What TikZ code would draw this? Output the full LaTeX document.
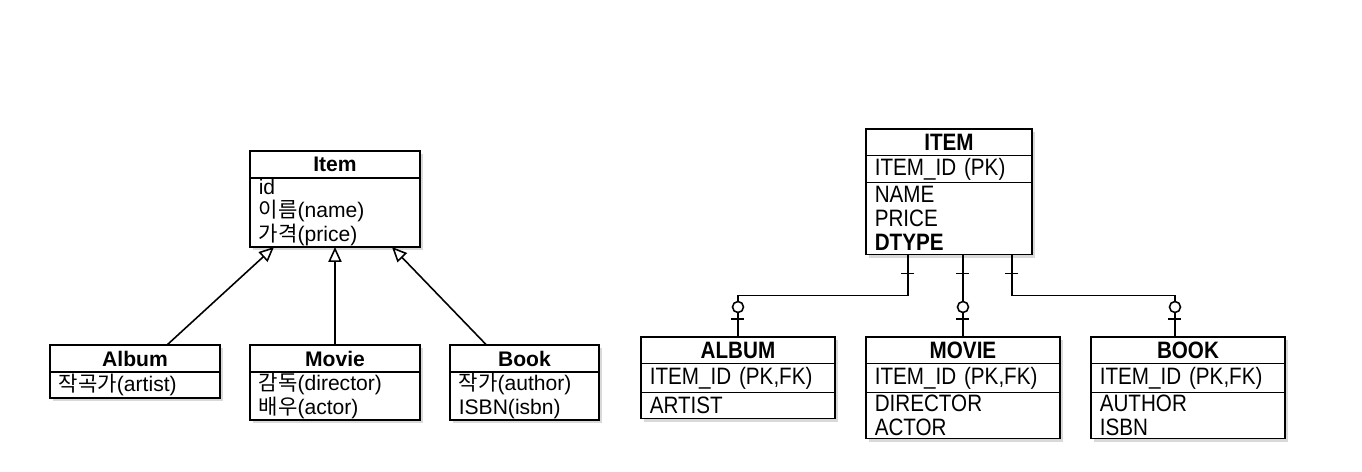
\documentclass[tikz,border=0pt]{standalone}
\usepackage{fontspec}
\setmainfont{Liberation Sans}
\newfontfamily\krfont{Noto Sans CJK KR}
\newfontfamily\erdfont[FakeStretch=0.87]{Liberation Sans}
\usetikzlibrary{positioning,calc,arrows.meta,shadows,decorations.markings}
\newcommand{\hangul}[1]{{\krfont #1}}

\begin{document}
\begin{tikzpicture}[
    x=0.02cm, y=-0.02cm,
    box/.style={rectangle, draw, line width=1.1pt, fill=white, outer sep=0pt, inner xsep=5pt, inner ysep=0pt, drop shadow={shadow xshift=1.6pt, shadow yshift=-1.8pt, opacity=0.3}},
    classhead/.style={box, minimum width=#1, minimum height=0.54cm, font=\fontsize{12}{13.6}\selectfont\bfseries},
    classbody/.style={box, text width=#1, align=left, font=\fontsize{12}{13.6}\selectfont},
    erhead/.style={box, minimum width=#1, minimum height=0.53cm, font=\erdfont\fontsize{13.5}{13.7}\selectfont\bfseries},
    erbody/.style={box, text width=#1, align=left, font=\erdfont\fontsize{13.5}{13.7}\selectfont},
    inherit/.style={-{Triangle[open, length=8.5pt, width=7.5pt]}, line width=0.9pt},
    erbar/.style={line width=0.9pt},
    erlink/.style={line width=0.9pt, postaction={decorate}, decoration={markings,
        mark=at position 0.38cm with {\draw[erbar] (0,-0.13cm) -- (0,0.13cm);},
        mark=at position -0.36cm with {\draw[erbar] (0,-0.13cm) -- (0,0.13cm);},
        mark=at position -0.6cm with {\draw[erbar, fill=white] (0,0) circle (0.11cm);}}}
]
    \useasboundingbox (0,0) rectangle (1362,471);

    % Object model: classes
    \node[classhead=3.4cm, anchor=north west] (item) at (250,151) {Item};
    \node[classbody=86.74pt, minimum height=1.38cm, below=0pt of item] (itemattr) {id\\\hangul{이름}(name)\\\hangul{가격}(price)};

    \node[classhead=3.4cm, anchor=north west] (album) at (50,345) {Album};
    \node[classbody=86.74pt, minimum height=0.52cm, below=0pt of album] (albumattr) {\hangul{작곡가}(artist)};

    \node[classhead=3.4cm, anchor=north west] (movie) at (250,345) {Movie};
    \node[classbody=86.74pt, minimum height=0.96cm, below=0pt of movie] (movieattr) {\hangul{감독}(director)\\\hangul{배우}(actor)};

    \node[classhead=2.98cm, anchor=north west] (book) at (450,345) {Book};
    \node[classbody=74.79pt, minimum height=0.96cm, below=0pt of book] (bookattr) {\hangul{작가}(author)\\ISBN(isbn)};

    % Generalization
    \draw[inherit] ($(album.north)+(32,0)$) -- ($(itemattr.south)+(-61,0)$);
    \draw[inherit] (movie.north) -- (itemattr.south -| movie.north);
    \draw[inherit] ($(book.north)+(-38,0)$) -- ($(itemattr.south)+(57,0)$);

    % Tables
    \node[erhead=3.32cm, anchor=north west] (itemtbl) at (866,129) {ITEM};
    \node[erbody=84.46pt, minimum height=0.54cm, below=0pt of itemtbl] (itempk) {ITEM\_ID (PK)};
    \node[erbody=84.46pt, minimum height=1.44cm, below=0pt of itempk] (itemcols) {NAME\\PRICE\\\textbf{DTYPE}};

    \node[erhead=3.88cm, anchor=north west] (albumtbl) at (641,337) {ALBUM};
    \node[erbody=100.4pt, minimum height=0.58cm, below=0pt of albumtbl] (albumpk) {ITEM\_ID (PK,FK)};
    \node[erbody=100.4pt, minimum height=0.52cm, below=0pt of albumpk] (albumcols) {ARTIST};

    \node[erhead=3.88cm, anchor=north west] (movietbl) at (866,337) {MOVIE};
    \node[erbody=100.4pt, minimum height=0.58cm, below=0pt of movietbl] (moviepk) {ITEM\_ID (PK,FK)};
    \node[erbody=100.4pt, minimum height=0.92cm, below=0pt of moviepk] (moviecols) {DIRECTOR\\ACTOR};

    \node[erhead=3.88cm, anchor=north west] (booktbl) at (1091,337) {BOOK};
    \node[erbody=100.4pt, minimum height=0.58cm, below=0pt of booktbl] (bookpk) {ITEM\_ID (PK,FK)};
    \node[erbody=100.4pt, minimum height=0.92cm, below=0pt of bookpk] (bookcols) {AUTHOR\\ISBN};

    % One-to-one links
    \coordinate (albumjoin) at ($(itemcols.south)+(-41,0)$);
    \coordinate (bookjoin) at ($(itemcols.south)+(63,0)$);
    \coordinate (bookdrop) at ($(booktbl.north)+(-13,0)$);
    \draw[erlink] (albumjoin) -- ++(0,41) -| (albumtbl.north);
    \draw[erlink] (itemcols.south -| movietbl.north) -- (movietbl.north);
    \draw[erlink] (bookjoin) -- ++(0,41) -| (bookdrop);
\end{tikzpicture}
\end{document}
